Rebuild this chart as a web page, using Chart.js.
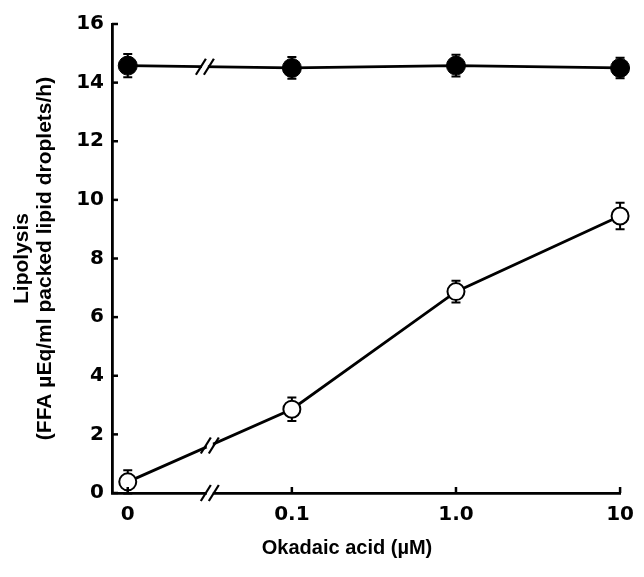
<!DOCTYPE html>
<html>
<head>
<meta charset="utf-8">
<style>
  html, body { margin: 0; padding: 0; background: #fff; }
  #c { display: block; }
</style>
<script src="https://cdn.jsdelivr.net/npm/chart.js"></script>
</head>
<body>
<canvas id="c" width="644" height="577"></canvas>
<script>
// ---- data ----
const categories = ['0', '0.1', '1.0', '10'];       // okadaic acid (µM), evenly spaced
const categoryPos = [0, 1, 2, 3];
const filledValues = [14.58, 14.5, 14.58, 14.5];     // filled circles
const filledErr    = [0.4, 0.37, 0.37, 0.35];
const openValues   = [0.38, 2.86, 6.87, 9.45];       // open circles
const openErr      = [0.4, 0.4, 0.37, 0.45];
const yTicks = [0, 2, 4, 6, 8, 10, 12, 14, 16];
const breakPos = 0.47;

const TICK_FONT = { family: 'DejaVu Sans', weight: 'bold', size: 20 };

function pts(vals) { return vals.map((v, i) => ({ x: categoryPos[i], y: v })); }

const decorPlugin = {
  id: 'decor',
  beforeDatasetsDraw(chart) {
    const ctx = chart.ctx, xs = chart.scales.x, ys = chart.scales.y;
    ctx.save();
    ctx.strokeStyle = '#000';
    ctx.lineWidth = 2;
    const sets = [[filledValues, filledErr], [openValues, openErr]];
    sets.forEach(([vals, errs]) => {
      vals.forEach((v, i) => {
        const px = xs.getPixelForValue(categoryPos[i]);
        const top = ys.getPixelForValue(v + errs[i]);
        const bot = ys.getPixelForValue(v - errs[i]);
        ctx.beginPath();
        ctx.moveTo(px, top); ctx.lineTo(px, bot);
        ctx.moveTo(px - 4.5, top); ctx.lineTo(px + 4.5, top);
        ctx.moveTo(px - 4.5, bot); ctx.lineTo(px + 4.5, bot);
        ctx.stroke();
      });
    });
    ctx.restore();
  },
  afterDatasetsDraw(chart) {
    const ctx = chart.ctx, xs = chart.scales.x, ys = chart.scales.y;
    const area = chart.chartArea;
    ctx.save();
    ctx.strokeStyle = '#000';
    ctx.lineWidth = 2.5;
    // inward ticks on y
    yTicks.forEach(t => {
      const py = ys.getPixelForValue(t);
      ctx.beginPath(); ctx.moveTo(area.left, py); ctx.lineTo(area.left + 6, py); ctx.stroke();
    });
    // inward ticks on x
    categoryPos.forEach(p => {
      const px = xs.getPixelForValue(p);
      ctx.beginPath(); ctx.moveTo(px, area.bottom); ctx.lineTo(px, area.bottom - 6); ctx.stroke();
    });
    // break marks
    function brk(px, py) {
      ctx.fillStyle = '#fff';
      ctx.fillRect(px - 3, py - 3, 6, 6);
      ctx.lineWidth = 2.2;
      [-4, 4].forEach(dx => {
        ctx.beginPath();
        ctx.moveTo(px + dx - 5, py + 8);
        ctx.lineTo(px + dx + 5, py - 8);
        ctx.stroke();
      });
    }
    const bx = xs.getPixelForValue(breakPos);
    const x0 = xs.getPixelForValue(0), x1 = xs.getPixelForValue(1);
    const f = (bx - x0) / (x1 - x0);
    const yTop = ys.getPixelForValue(filledValues[0] + f * (filledValues[1] - filledValues[0]));
    brk(bx, yTop);
    const bx2 = xs.getPixelForValue(breakPos + 0.03);
    const f2 = (bx2 - x0) / (x1 - x0);
    const yBot = ys.getPixelForValue(openValues[0] + f2 * (openValues[1] - openValues[0]));
    brk(bx2, yBot);
    brk(bx2, area.bottom);
    // x axis title
    ctx.fillStyle = '#000';
    ctx.textAlign = 'center';
    ctx.textBaseline = 'middle';
    ctx.font = 'bold 20px "Liberation Sans", Arial, sans-serif';
    ctx.fillText('Okadaic acid (µM)', 347, 548);
    ctx.restore();
  }
};

new Chart(document.getElementById('c'), {
  type: 'line',
  data: {
    datasets: [
      {
        data: pts(filledValues),
        borderColor: '#000', borderWidth: 2.8,
        pointRadius: 9.5, pointBackgroundColor: '#000', pointBorderColor: '#000', pointBorderWidth: 1,
        tension: 0, clip: false
      },
      {
        data: pts(openValues),
        borderColor: '#000', borderWidth: 2.8,
        pointRadius: 8.5, pointBackgroundColor: '#fff', pointBorderColor: '#000', pointBorderWidth: 2,
        tension: 0, clip: false
      }
    ]
  },
  options: {
    responsive: false,
    animation: false,
    layout: { padding: { left: 0, right: 16, top: 24, bottom: 0 } },
    plugins: { legend: { display: false }, tooltip: { enabled: false } },
    scales: {
      x: {
        type: 'linear', min: -0.096, max: 3,
        afterBuildTicks: s => { s.ticks = categoryPos.map(v => ({ value: v })); },
        afterFit: s => { s.height = 84; },
        grid: { drawOnChartArea: false, drawTicks: false },
        border: { display: true, color: '#000', width: 2.8 },
        ticks: { padding: 10, color: '#000', font: TICK_FONT, maxRotation: 0,
                 callback: v => categories[categoryPos.indexOf(v)] }
      },
      y: {
        type: 'linear', min: 0, max: 16,
        afterBuildTicks: s => { s.ticks = yTicks.map(v => ({ value: v })); },
        afterFit: s => { s.width = 112; },
        grid: { drawOnChartArea: false, drawTicks: false },
        border: { display: true, color: '#000', width: 2.8 },
        ticks: { padding: 8, color: '#000', font: TICK_FONT },
        title: {
          display: true,
          text: ['Lipolysis', '(FFA µEq/ml packed lipid droplets/h)'],
          color: '#000',
          font: { family: '"Liberation Sans", Arial, sans-serif', weight: 'bold', size: 21, lineHeight: 1.1 },
          padding: { top: 11, bottom: 0 }
        }
      }
    }
  },
  plugins: [decorPlugin]
});
</script>
</body>
</html>
